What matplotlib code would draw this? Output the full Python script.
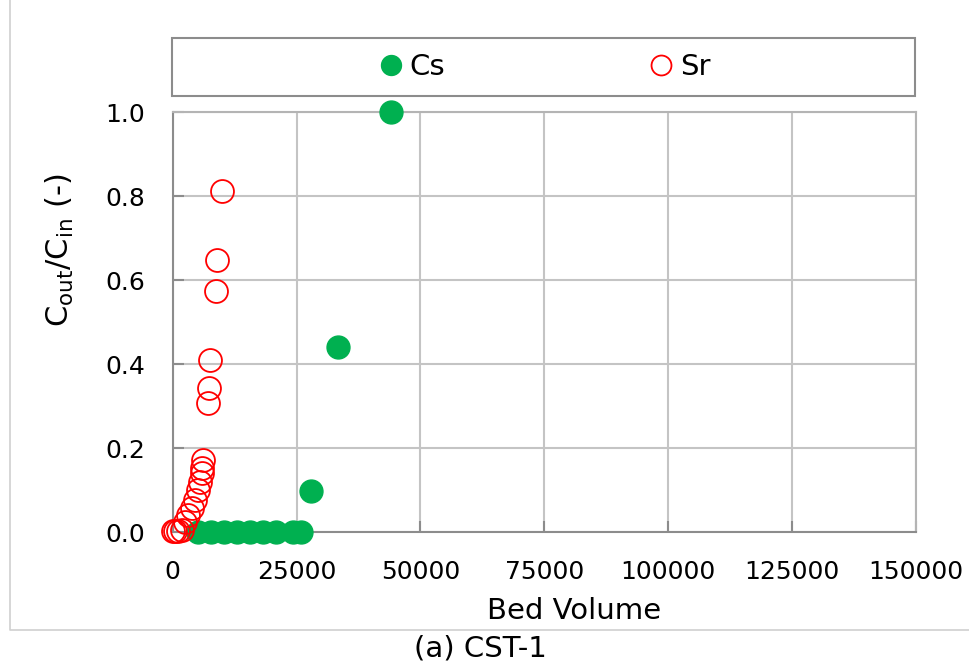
import numpy as np
from matplotlib import pyplot as plt
from matplotlib.patches import Rectangle
from matplotlib.lines import Line2D

# bed volume / breakthrough ratio
CS_BV = [5100, 7700, 10300, 13000, 15600, 18200, 20800, 24300, 25900, 27900, 33300, 44000]
CS_RATIO = [0, 0, 0, 0, 0, 0, 0, 0, 0, 0.098, 0.442, 1.0]

SR_BV = [0, 500, 1100, 1900, 2500, 3150, 3830, 4500, 5040, 5500, 5840, 5970, 6170,
         7180, 7260, 7520, 8790, 8930, 10000]
SR_RATIO = [0.004, 0.004, 0.003, 0.006, 0.025, 0.041, 0.057, 0.077, 0.100, 0.120, 0.140,
            0.152, 0.172, 0.307, 0.343, 0.409, 0.573, 0.648, 0.813]

X_TICKS = [0, 25000, 50000, 75000, 100000, 125000, 150000]
Y_TICKS = [0.0, 0.2, 0.4, 0.6, 0.8, 1.0]

GREEN = '#00B050'
RED = '#FF0000'

W, H = 969, 665
fig = plt.figure(figsize=(W / 100, H / 100), dpi=100)
ax = fig.add_axes([172.7 / W, 1 - 532.3 / H, (916 - 172.7) / W, (532.3 - 112) / H])

ax.plot(CS_BV, CS_RATIO, linestyle='none', marker='o', markersize=16.5,
        color=GREEN, markeredgecolor=GREEN, label='Cs', zorder=3, clip_on=False)
ax.plot(SR_BV, SR_RATIO, linestyle='none', marker='o', markersize=16.5,
        markerfacecolor='none', markeredgecolor=RED, markeredgewidth=1.3,
        label='Sr', zorder=4, clip_on=False)

ax.set_xlim(0, 150000)
ax.set_ylim(0, 1.0)
ax.set_xticks(X_TICKS)
ax.set_xticklabels([str(v) for v in X_TICKS])
ax.set_yticks(Y_TICKS)
ax.set_yticklabels([f'{v:.1f}' for v in Y_TICKS])

ax.grid(True, color='#c4c4c4', linewidth=1.5, zorder=0)
ax.set_axisbelow(True)
ax.tick_params(direction='in', length=8, width=1.5, color='#8c8c8c',
               labelsize=18, pad=20)
for side in ['left', 'bottom']:
    ax.spines[side].set_color('#8c8c8c')
    ax.spines[side].set_linewidth(1.5)
for side in ['top', 'right']:
    ax.spines[side].set_color('#b4b4b4')
    ax.spines[side].set_linewidth(1.5)

ax.set_xlabel('Bed Volume', fontsize=21)
ax.xaxis.set_label_coords((574 - 172.7) / 743.3, (532.3 - 597) / 420.3)
ax.set_ylabel(r'$\mathregular{C_{out}/C_{in}}$ (-)', fontsize=22)
ax.yaxis.set_label_coords((76 - 172.7) / 743.3, (532.3 - 250) / 420.3)

# legend box above the plot
box_x0, box_x1, box_y0, box_y1 = 172, 915, 38, 96
fig.add_artist(Rectangle((box_x0 / W, 1 - box_y1 / H), (box_x1 - box_x0) / W,
                         (box_y1 - box_y0) / H, transform=fig.transFigure,
                         facecolor='white', edgecolor='#8c8c8c', linewidth=1.5))
fig.legend(loc='center', bbox_to_anchor=((box_x0 + box_x1) / 2 / W + 2 / W, 1 - (box_y0 + box_y1) / 2 / H),
           ncol=2, frameon=False, fontsize=21, markerscale=0.87, handlelength=0.7,
           handletextpad=0.3, columnspacing=7.05)

# outer frame of the figure panel (left and bottom edges visible)
fig.add_artist(Line2D([10 / W, 10 / W, 1.01], [1.01, 1 - 630 / H, 1 - 630 / H],
                      transform=fig.transFigure, color='#d0d0d0', linewidth=1.2))

fig.text(480 / W, 2 / H, '(a) CST-1', fontsize=21, ha='center', va='bottom')

plt.savefig('out.png', dpi=100)
plt.close('all')
